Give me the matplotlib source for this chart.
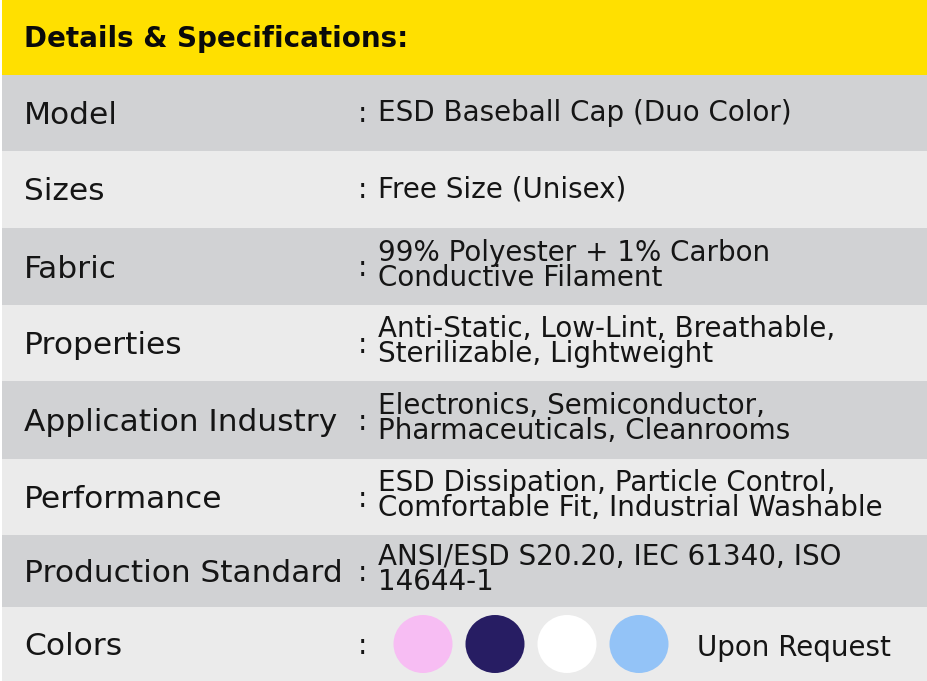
import matplotlib.pyplot as plt
from matplotlib.patches import Ellipse

# table content
title = "Details & Specifications:"
labels = ["Model", "Sizes", "Fabric", "Properties", "Application Industry",
          "Performance", "Production Standard", "Colors"]
values = [
    ["ESD Baseball Cap (Duo Color)"],
    ["Free Size (Unisex)"],
    ["99% Polyester + 1% Carbon", "Conductive Filament"],
    ["Anti-Static, Low-Lint, Breathable,", "Sterilizable, Lightweight"],
    ["Electronics, Semiconductor,", "Pharmaceuticals, Cleanrooms"],
    ["ESD Dissipation, Particle Control,", "Comfortable Fit, Industrial Washable"],
    ["ANSI/ESD S20.20, IEC 61340, ISO", "14644-1"],
    [],
]
swatches = ["#f7bdf3", "#271d63", "#ffffff", "#93c3f7"]
colors_note = "Upon Request"

# layout in pixels
W, H = 928, 681
row_edges = [75, 151, 228, 305, 381, 459, 535, 607, 681]
row_fill = ["#d1d2d4", "#ebebeb"]
font = "DejaVu Sans"
ink = "#151515"

fig = plt.figure(figsize=(W / 100, H / 100), dpi=100)
ax = fig.add_axes([0, 0, 1, 1])
ax.set_xlim(0, W)
ax.set_ylim(H, 0)
ax.axis("off")

# header band
ax.barh(75 / 2, W - 2, height=75, left=2, color="#ffe000", linewidth=0)
ax.text(24, 47, title, fontsize=20, fontweight="bold", family=font,
        color="#0a0a0a", va="baseline")

for i, (lab, val) in enumerate(zip(labels, values)):
    top, bot = row_edges[i], row_edges[i + 1]
    mid = (top + bot) / 2
    ax.barh(mid, W - 2, height=bot - top, left=2, color=row_fill[i % 2], linewidth=0)
    ax.text(24, mid + 11, lab, fontsize=22.5, family=font, color=ink, va="baseline")
    if len(val) == 1:
        ax.text(358, mid + 9, ":", fontsize=20, family=font, color=ink, va="baseline")
        ax.text(378, mid + 8, val[0], fontsize=20, family=font, color=ink, va="baseline")
    elif len(val) == 2:
        ax.text(358, mid + 10, ":", fontsize=20, family=font, color=ink, va="baseline")
        # two lines packed tight, like the source (baseline = last line)
        ax.text(378, mid + 19, "\n".join(val), fontsize=20, family=font, color=ink,
                va="baseline", linespacing=0.86)
    else:
        ax.text(358, mid + 10, ":", fontsize=20, family=font, color=ink, va="baseline")
        for k, c in enumerate(swatches):
            ax.add_patch(Ellipse((423 + 72 * k, mid), 59, 58, color=c, linewidth=0))
        ax.text(697, mid + 12, colors_note, fontsize=20, family=font, color=ink,
                va="baseline")

fig.savefig("out.png", dpi=100)
